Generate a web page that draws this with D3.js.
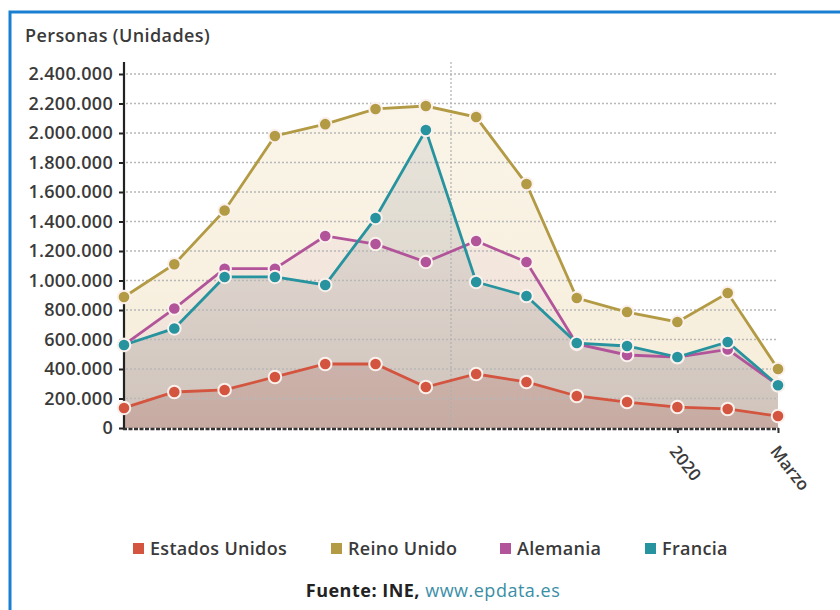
<!DOCTYPE html>
<html>
<head>
<meta charset="utf-8">
<script src="https://cdn.jsdelivr.net/npm/d3@7"></script>
<style>
  body { margin: 0; background: #fff; }
  svg { display: block; }
  text { font-family: "Open Sans", "Noto Sans", sans-serif; }
</style>
</head>
<body>
<svg id="chart" width="840" height="610"></svg>
<script>
// Monthly visitors by country of residence (persons)
const months = ["feb 2019","mar 2019","abr 2019","may 2019","jun 2019","jul 2019","ago 2019",
                "sep 2019","oct 2019","nov 2019","dic 2019","ene 2020","feb 2020","mar 2020"];
const xTickMonths = ["ene 2020", "mar 2020"];
const xTickLabels = ["2020", "Marzo"];
const yTicks = [0, 200000, 400000, 600000, 800000, 1000000, 1200000, 1400000,
                1600000, 1800000, 2000000, 2200000, 2400000];

const estadosUnidos = [136000, 244000, 258000, 346000, 434000, 434000, 278000,
                       366000, 312000, 217000, 176000, 142000, 129000, 81000];
const reinoUnido    = [888000, 1110000, 1475000, 1980000, 2060000, 2163000, 2183000,
                       2108000, 1654000, 881000, 786000, 719000, 915000, 400000];
const alemania      = [563000, 810000, 1080000, 1080000, 1302000, 1247000, 1125000,
                       1268000, 1125000, 570000, 495000, 480000, 533000, 290000];
const francia       = [563000, 675000, 1024000, 1024000, 970000, 1424000, 2020000,
                       990000, 895000, 576000, 556000, 481000, 583000, 290000];

const seriesNames  = ["Estados Unidos", "Reino Unido", "Alemania", "Francia"];
const seriesValues = [estadosUnidos, reinoUnido, alemania, francia];
const seriesColors = ["#d4553f", "#b39a44", "#b2549a", "#27939f"];

const svg = d3.select("#chart");

// frame
svg.append("path")
  .attr("d", "M10,620 L10,12 L850,12")
  .attr("fill", "none").attr("stroke", "#1a7fd0").attr("stroke-width", 3);

const x = d3.scalePoint().domain(months).range([124, 778]);
const y = d3.scaleLinear().domain([0, 2400000]).range([428, 74]);
const locale = d3.formatLocale({ decimal: ",", thousands: ".", grouping: [3], currency: ["", "€"] });
const fmt = locale.format(",d");

const textColor = "#3a3a3a";

// title
svg.append("text").attr("x", 25).attr("y", 42)
  .attr("font-size", 18).attr("font-weight", 600).attr("fill", textColor)
  .attr("letter-spacing", 0.4)
  .text("Personas (Unidades)");

// gradients for area fills
const defs = svg.append("defs");
const areaStyles = [
  { top: "#c89890", topOp: 0.26, bot: "#b88078", botOp: 0.36 },  // Estados Unidos
  { top: "#f5ead0", topOp: 0.45, bot: "#eedcb8", botOp: 0.55 },  // Reino Unido
  { top: "#ecd0dc", topOp: 0.25, bot: "#dcc0cc", botOp: 0.25 },  // Alemania
  { top: "#d2d4d2", topOp: 0.38, bot: "#b0a6a0", botOp: 0.50 }   // Francia
];
areaStyles.forEach((s, i) => {
  const g = defs.append("linearGradient").attr("id", "ag" + i)
    .attr("gradientUnits", "userSpaceOnUse")
    .attr("x1", 0).attr("y1", y(2400000)).attr("x2", 0).attr("y2", y(0));
  g.append("stop").attr("offset", "0%").attr("stop-color", s.top).attr("stop-opacity", s.topOp);
  g.append("stop").attr("offset", "100%").attr("stop-color", s.bot).attr("stop-opacity", s.botOp);
});

// areas (back to front)
const area = d3.area().x((d, i) => x(months[i])).y0(y(0)).y1(d => y(d));
const areaOrder = [1, 2, 3, 0];
svg.append("g").selectAll("path").data(areaOrder).join("path")
  .attr("d", i => area(seriesValues[i]))
  .attr("fill", i => "url(#ag" + i + ")");

// grid
svg.append("g").selectAll("line").data(yTicks.slice(1)).join("line")
  .attr("x1", 126).attr("x2", 776)
  .attr("y1", d => y(d)).attr("y2", d => y(d))
  .attr("stroke", "#b8b8b8").attr("stroke-width", 1.5).attr("stroke-dasharray", "2,2");

// year divider
svg.append("line")
  .attr("x1", (x(months[6]) + x(months[7])) / 2).attr("x2", (x(months[6]) + x(months[7])) / 2)
  .attr("y1", 62).attr("y2", y(0))
  .attr("stroke", "#b0b0b0").attr("stroke-width", 1.2).attr("stroke-dasharray", "2,2");

// y axis
const yAxis = d3.axisLeft(y).tickValues(yTicks).tickFormat(fmt).tickSize(5).tickPadding(6);
const yg = svg.append("g").attr("transform", "translate(124,0)").call(yAxis);
yg.select(".domain").remove();
yg.append("line").attr("x1", 0).attr("x2", 0).attr("y1", 62).attr("y2", y(0) + 2)
  .attr("stroke", "#222").attr("stroke-width", 2.2);
yg.selectAll(".tick line").attr("stroke", "#222").attr("stroke-width", 2);
yg.selectAll(".tick text").attr("font-size", 18).attr("font-weight", 600).attr("fill", textColor)
  .attr("letter-spacing", 0.3)
  .attr("font-family", "\"Open Sans\", sans-serif");

// x axis
const xAxis = d3.axisBottom(x).tickValues(xTickMonths)
  .tickFormat(d => xTickLabels[xTickMonths.indexOf(d)]).tickSize(5).tickPadding(4);
const xg = svg.append("g").attr("transform", "translate(0," + y(0) + ")").call(xAxis);
xg.select(".domain").remove();
xg.append("line").attr("x1", 123).attr("x2", 779).attr("y1", 1).attr("y2", 1)
  .attr("stroke", "#333").attr("stroke-width", 2.5).attr("stroke-dasharray", "4,1.5");
xg.selectAll(".tick line").attr("stroke", "#333").attr("stroke-width", 2);
xg.selectAll(".tick text")
  .attr("font-size", 17).attr("font-weight", 600).attr("fill", textColor)
  .attr("font-family", "\"Open Sans\", sans-serif")
  .attr("text-anchor", "start").attr("dy", 0)
  .attr("transform", "translate(-2,18) rotate(52)");

// lines and markers (front order)
const line = d3.line().x((d, i) => x(months[i])).y(d => y(d));
const drawOrder = [1, 0, 2, 3];
drawOrder.forEach(si => {
  const g = svg.append("g");
  g.append("path").attr("d", line(seriesValues[si]))
    .attr("fill", "none").attr("stroke", seriesColors[si]).attr("stroke-width", 2.8);
  g.selectAll("circle").data(seriesValues[si]).join("circle")
    .attr("cx", (d, i) => x(months[i])).attr("cy", d => y(d)).attr("r", 6.3)
    .attr("fill", seriesColors[si]).attr("stroke", "#fbf1ec").attr("stroke-width", 2);
});

// legend
const legendX = [133, 331, 500, 645];
const lg = svg.append("g");
seriesNames.forEach((n, i) => {
  lg.append("rect").attr("x", legendX[i]).attr("y", 543).attr("width", 11).attr("height", 11)
    .attr("fill", seriesColors[i]);
  lg.append("text").attr("x", legendX[i] + 17).attr("y", 555)
    .attr("font-size", 18).attr("font-weight", 600).attr("fill", textColor)
    .attr("letter-spacing", 0.3).text(n);
});

// source
const src = svg.append("text").attr("x", 433).attr("y", 597).attr("text-anchor", "middle")
  .attr("font-size", 18).attr("letter-spacing", 0.5);
src.append("tspan").attr("font-weight", 700).attr("fill", "#222").text("Fuente: INE, ");
src.append("tspan").attr("font-weight", 500).attr("fill", "#3a8ea6").text("www.epdata.es");
</script>
</body>
</html>
